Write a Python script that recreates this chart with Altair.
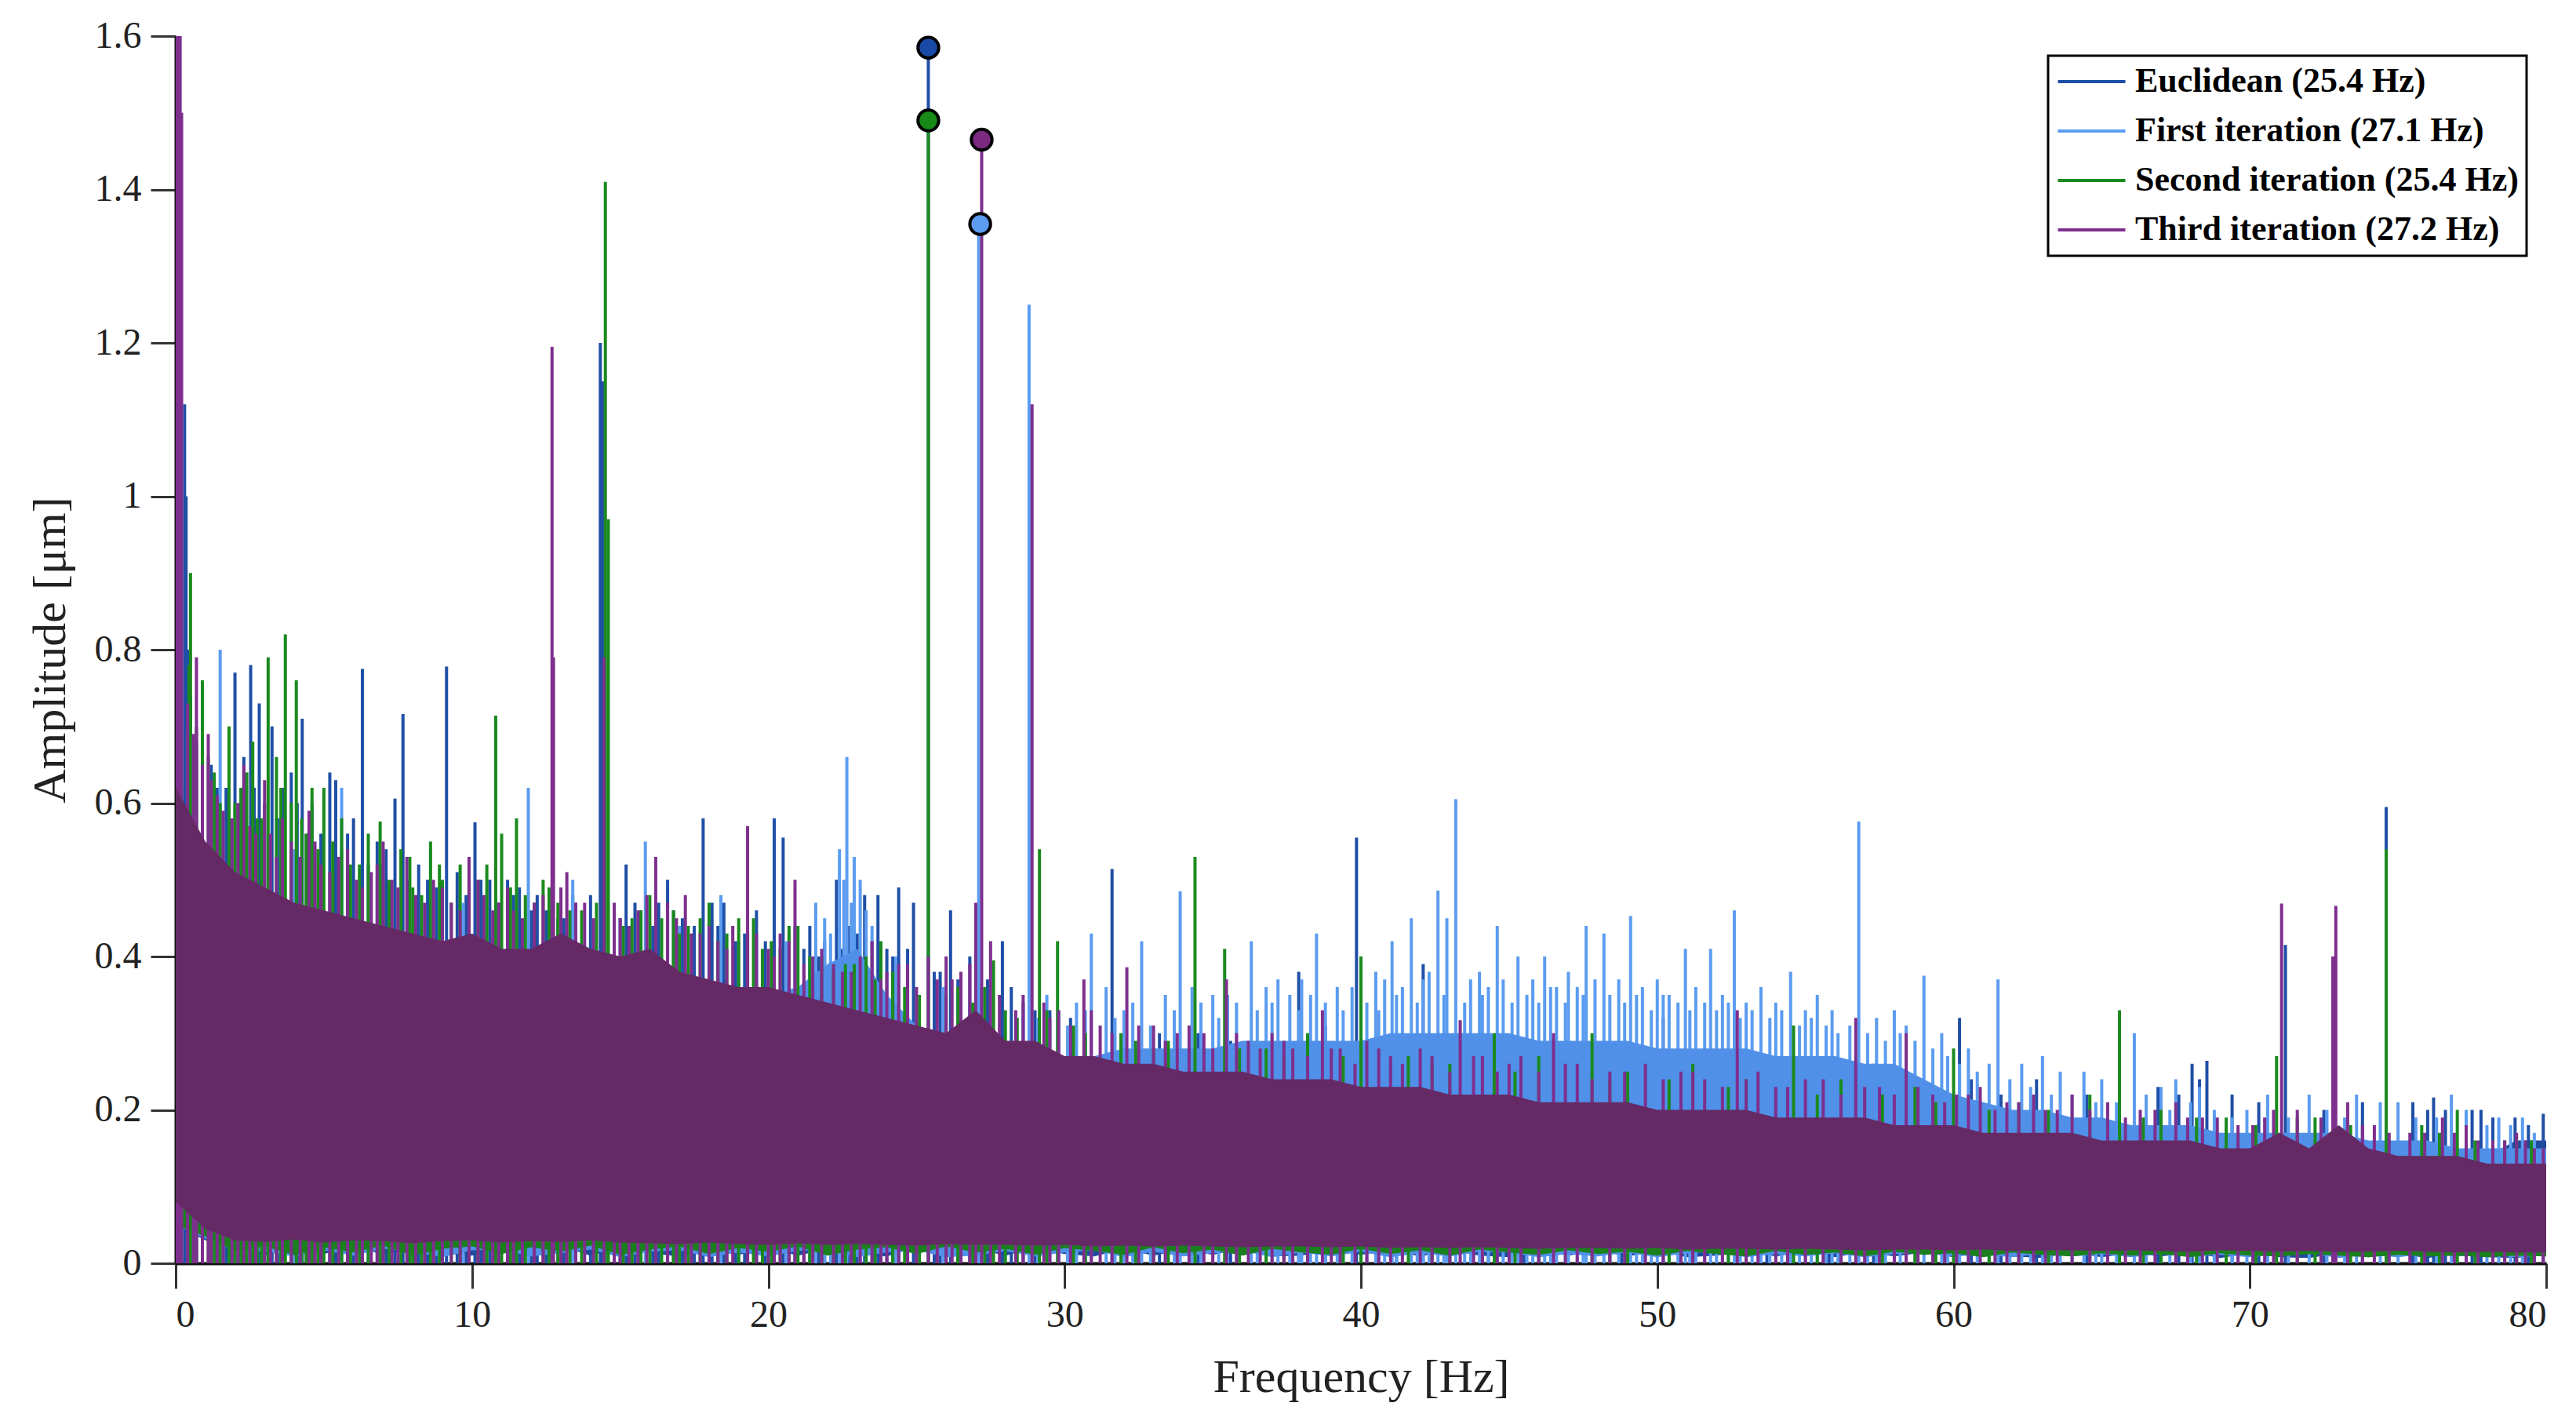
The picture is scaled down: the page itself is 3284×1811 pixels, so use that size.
import altair as alt
import pandas as pd

SERIES = ["Euclidean (25.4 Hz)", "First iteration (27.1 Hz)",
          "Second iteration (25.4 Hz)", "Third iteration (27.2 Hz)"]
LINE_COLORS = ["#1f4fa6", "#5b9cf0", "#1b8a1e", "#7e2f8e"]
FILL_COLORS = ["#1f4a9c", "#5090e8", "#1a801d", "#652a66"]
MARKER_COLORS = ["#1a4aa8", "#5b9cf0", "#178a17", "#7a2a80"]

FREQ = list(range(81))

# dense noise band: upper edge per 1 Hz
euclid_hi = [0.61,0.54,0.50,0.48,0.46,0.45,0.44,0.43,0.42,0.41,
             0.42,0.40,0.40,0.42,0.40,0.39,0.40,0.37,0.36,0.35,
             0.35,0.34,0.33,0.32,0.31,0.30,0.29,0.32,0.28,0.28,
             0.26,0.26,0.25,0.25,0.24,0.24,0.24,0.23,0.23,0.23,
             0.22,0.22,0.22,0.21,0.21,0.21,0.20,0.20,0.20,0.20,
             0.19,0.19,0.19,0.19,0.18,0.18,0.18,0.18,0.17,0.17,
             0.17,0.16,0.16,0.16,0.16,0.15,0.15,0.17,0.18,0.15,
             0.15,0.16,0.15,0.17,0.15,0.14,0.15,0.14,0.14,0.16,
             0.16]
first_hi = [0.61,0.54,0.50,0.48,0.46,0.45,0.44,0.43,0.42,0.41,
            0.42,0.40,0.40,0.42,0.40,0.39,0.40,0.37,0.36,0.35,
            0.35,0.36,0.39,0.41,0.35,0.31,0.29,0.32,0.28,0.28,
            0.27,0.27,0.28,0.28,0.28,0.28,0.29,0.29,0.29,0.29,
            0.29,0.30,0.30,0.30,0.30,0.30,0.29,0.29,0.29,0.29,
            0.28,0.28,0.28,0.28,0.27,0.27,0.27,0.26,0.26,0.24,
            0.22,0.21,0.20,0.20,0.19,0.19,0.18,0.18,0.18,0.17,
            0.17,0.17,0.17,0.17,0.16,0.16,0.16,0.15,0.15,0.15,
            0.15]
second_hi = [0.61,0.54,0.50,0.48,0.46,0.45,0.44,0.43,0.42,0.41,
             0.42,0.40,0.40,0.42,0.40,0.39,0.40,0.37,0.36,0.35,
             0.35,0.34,0.33,0.32,0.31,0.30,0.29,0.32,0.28,0.28,
             0.26,0.26,0.25,0.25,0.24,0.24,0.24,0.23,0.23,0.23,
             0.22,0.22,0.22,0.21,0.21,0.21,0.20,0.20,0.20,0.20,
             0.19,0.19,0.19,0.19,0.18,0.18,0.18,0.18,0.17,0.17,
             0.17,0.16,0.16,0.16,0.16,0.15,0.15,0.15,0.15,0.14,
             0.14,0.16,0.14,0.17,0.14,0.14,0.14,0.14,0.13,0.13,
             0.13]
third_hi = [0.62,0.55,0.51,0.49,0.47,0.46,0.45,0.44,0.43,0.42,
            0.43,0.41,0.41,0.43,0.41,0.40,0.41,0.38,0.37,0.36,
            0.36,0.35,0.34,0.33,0.32,0.31,0.30,0.33,0.29,0.29,
            0.27,0.27,0.26,0.26,0.25,0.25,0.25,0.24,0.24,0.24,
            0.23,0.23,0.23,0.22,0.22,0.22,0.21,0.21,0.21,0.21,
            0.20,0.20,0.20,0.20,0.19,0.19,0.19,0.19,0.18,0.18,
            0.18,0.17,0.17,0.17,0.17,0.16,0.16,0.16,0.16,0.15,
            0.15,0.17,0.15,0.18,0.15,0.14,0.14,0.14,0.13,0.13,
            0.13]

# dense noise band: lower edge per 1 Hz
euclid_lo = [0.05,0.030,0.022,0.010,0.020,0.012,0.023,0.011,0.019,0.013,
             0.010,0.021,0.012,0.022,0.010,0.020,0.013,0.009,0.021,0.011,
             0.020,0.010,0.019,0.012,0.009,0.021,0.011,0.019,0.010,0.020,
             0.012,0.009,0.019,0.010,0.018,0.011,0.019,0.009,0.010,0.018,
             0.011,0.017,0.009,0.017,0.010,0.008,0.017,0.010,0.016,0.009,
             0.016,0.008,0.010,0.016,0.009,0.015,0.008,0.015,0.009,0.014,
             0.008,0.015,0.009,0.007,0.014,0.008,0.013,0.009,0.014,0.007,
             0.013,0.008,0.007,0.013,0.008,0.012,0.007,0.013,0.008,0.007,
             0.012]
first_lo = [0.05,0.032,0.017,0.015,0.009,0.017,0.010,0.019,0.015,0.008,
            0.017,0.018,0.009,0.013,0.018,0.008,0.015,0.017,0.008,0.014,
            0.009,0.016,0.018,0.008,0.014,0.017,0.008,0.010,0.016,0.009,
            0.014,0.017,0.008,0.015,0.009,0.013,0.016,0.008,0.014,0.009,
            0.015,0.008,0.013,0.009,0.015,0.014,0.008,0.012,0.009,0.014,
            0.008,0.013,0.015,0.008,0.012,0.009,0.013,0.008,0.012,0.014,
            0.009,0.011,0.008,0.013,0.009,0.012,0.008,0.012,0.009,0.011,
            0.008,0.012,0.013,0.007,0.011,0.008,0.012,0.009,0.011,0.008,
            0.010]
second_lo = [0.05,0.035,0.016,0.022,0.011,0.021,0.014,0.023,0.010,0.019,
             0.022,0.012,0.021,0.015,0.023,0.011,0.018,0.022,0.012,0.020,
             0.015,0.022,0.010,0.018,0.021,0.012,0.022,0.014,0.019,0.011,
             0.020,0.016,0.011,0.021,0.013,0.018,0.010,0.019,0.014,0.011,
             0.019,0.012,0.017,0.010,0.018,0.014,0.011,0.017,0.012,0.015,
             0.010,0.016,0.012,0.009,0.016,0.011,0.014,0.009,0.015,0.011,
             0.013,0.008,0.014,0.011,0.009,0.013,0.010,0.012,0.008,0.013,
             0.010,0.009,0.012,0.010,0.008,0.011,0.009,0.010,0.008,0.010,
             0.009]
third_lo = [0.08,0.045,0.030,0.028,0.031,0.027,0.030,0.029,0.026,0.029,
            0.030,0.027,0.029,0.028,0.030,0.027,0.026,0.025,0.027,0.025,
            0.024,0.026,0.024,0.025,0.024,0.023,0.025,0.024,0.024,0.023,
            0.024,0.022,0.023,0.022,0.023,0.022,0.021,0.022,0.022,0.021,
            0.022,0.020,0.021,0.020,0.021,0.020,0.019,0.020,0.020,0.019,
            0.020,0.018,0.019,0.019,0.018,0.019,0.018,0.017,0.018,0.018,
            0.017,0.018,0.016,0.017,0.017,0.016,0.017,0.016,0.015,0.017,
            0.016,0.015,0.016,0.015,0.015,0.016,0.015,0.014,0.015,0.014,
            0.014]

# individual spectral lines: (frequency Hz, amplitude um)
euclid_spikes = [
    (0.3,1.12),(0.35,1.0),(0.4,0.8),(0.5,0.74),(0.7,0.68),(0.9,0.70),(1.2,0.65),(1.4,0.62),
    (1.7,0.62),(2.0,0.77),(2.15,0.60),(2.3,0.66),(2.53,0.78),(2.65,0.62),(2.82,0.73),(3.0,0.60),
    (3.25,0.70),(3.45,0.58),(3.6,0.62),(3.9,0.64),(4.1,0.60),(4.27,0.71),(4.45,0.56),(4.6,0.60),
    (4.9,0.56),(5.2,0.64),(5.4,0.63),(5.6,0.54),(5.8,0.56),(6.0,0.58),(6.3,0.775),(6.5,0.52),
    (6.8,0.55),(6.95,0.52),(7.1,0.54),(7.4,0.606),(7.67,0.716),(7.85,0.50),(8.2,0.52),(8.5,0.50),
    (8.8,0.49),(9.14,0.778),(9.5,0.51),(9.8,0.48),(10.1,0.575),(10.3,0.50),(10.6,0.50),(10.9,0.47),
    (11.2,0.50),(11.4,0.48),(11.6,0.49),(12.0,0.46),(12.2,0.48),(12.5,0.46),(12.9,0.45),(13.1,0.45),
    (13.4,0.48),(13.5,0.47),(14.0,0.48),(14.33,1.20),(14.4,1.15),(15.0,0.45),(15.2,0.52),(15.5,0.47),
    (15.7,0.46),(16.1,0.44),(16.3,0.47),(16.6,0.50),(16.8,0.46),(17.1,0.45),(17.5,0.44),(17.8,0.58),
    (18.1,0.47),(18.3,0.44),(18.5,0.47),(18.9,0.42),(19.2,0.43),(19.6,0.46),(19.9,0.42),(20.2,0.58),
    (20.5,0.555),(20.7,0.43),(20.9,0.44),(21.2,0.41),(21.4,0.44),(21.7,0.40),(21.9,0.42),(22.3,0.50),
    (22.5,0.41),(22.7,0.44),(23.0,0.43),(23.25,0.48),(23.5,0.42),(23.7,0.48),(24.0,0.41),(24.2,0.40),
    (24.4,0.49),(24.7,0.41),(24.9,0.47),(25.4,1.585),(25.6,0.38),(25.8,0.38),(26.15,0.46),(26.4,0.37),
    (26.8,0.40),(27.1,0.36),(27.4,0.37),(27.9,0.42),(28.2,0.36),(28.6,0.34),(29.0,0.33),(29.5,0.33),
    (30.2,0.32),(31.6,0.514),(33.2,0.30),(34.5,0.30),(35.6,0.29),(37.9,0.38),(38.8,0.31),(39.85,0.555),
    (41.2,0.30),(42.1,0.39),(44.3,0.29),(45.5,0.28),(48.8,0.28),(50.2,0.32),(53.7,0.27),(55.8,0.27),
    (57.3,0.26),(60.2,0.32),(60.6,0.24),(61.6,0.22),(62.8,0.24),(64.5,0.22),(66.9,0.23),(67.6,0.22),
    (68.05,0.26),(68.3,0.24),(68.55,0.264),(69.4,0.22),(70.3,0.21),(71.2,0.415),(72.5,0.20),(73.8,0.21),
    (74.6,0.595),(75.5,0.21),(76.0,0.20),(76.2,0.216),(76.6,0.20),(77.5,0.20),(77.8,0.20),(78.2,0.19),
    (78.95,0.19),(79.4,0.18),(79.9,0.195)]

first_spikes = [
    (0.4,0.70),(1.5,0.80),(2.4,0.56),(3.4,0.58),(4.0,0.54),(5.6,0.62),(6.8,0.50),(9.7,0.47),
    (11.9,0.62),(13.4,0.50),(14.8,0.45),(15.85,0.55),(17.0,0.44),(18.4,0.48),(19.0,0.42),(20.6,0.42),
    (21.4,0.40),(21.6,0.47),(21.9,0.45),(22.1,0.43),(22.4,0.54),(22.55,0.50),(22.65,0.66),(22.8,0.47),
    (22.9,0.53),(23.1,0.50),(23.3,0.46),(23.5,0.44),(23.8,0.40),(24.3,0.40),(25.9,0.36),(27.1,1.355),
    (28.6,0.33),(28.8,1.25),(29.1,0.32),(29.4,0.35),(29.8,0.33),(30.1,0.31),(30.4,0.34),(30.7,0.33),
    (30.9,0.43),(31.4,0.36),(31.7,0.32),(32.0,0.33),(32.3,0.34),(32.6,0.42),(32.9,0.31),(33.4,0.35),
    (33.7,0.33),(33.9,0.485),(34.3,0.36),(34.6,0.34),(35.0,0.35),(35.2,0.32),(35.5,0.35),(35.8,0.34),
    (36.3,0.42),(36.5,0.33),(36.8,0.36),(37.0,0.34),(37.2,0.37),(37.6,0.35),(37.9,0.33),(38.0,0.37),
    (38.3,0.35),(38.5,0.43),(38.8,0.34),(39.2,0.36),(39.4,0.33),(39.7,0.36),(40.0,0.35),(40.2,0.34),
    (40.5,0.38),(40.6,0.33),(40.8,0.37),(41.05,0.42),(41.2,0.35),(41.4,0.36),(41.7,0.45),(41.9,0.34),
    (42.1,0.37),(42.3,0.38),(42.6,0.486),(42.8,0.35),(42.9,0.45),(43.2,0.605),(43.5,0.34),(43.7,0.37),
    (44.0,0.38),(44.1,0.35),(44.3,0.36),(44.6,0.44),(44.8,0.37),(45.1,0.34),(45.3,0.40),(45.6,0.35),
    (45.8,0.37),(46.0,0.34),(46.2,0.40),(46.4,0.36),(46.6,0.36),(46.9,0.34),(47.0,0.38),(47.3,0.36),
    (47.5,0.35),(47.6,0.44),(47.9,0.37),(48.2,0.43),(48.4,0.35),(48.7,0.37),(48.9,0.34),(49.1,0.453),
    (49.3,0.35),(49.5,0.36),(49.8,0.33),(50.0,0.37),(50.2,0.35),(50.4,0.35),(50.7,0.34),(50.95,0.41),
    (51.1,0.33),(51.3,0.36),(51.6,0.34),(51.8,0.41),(52.0,0.33),(52.2,0.35),(52.4,0.34),(52.6,0.46),
    (52.8,0.32),(53.0,0.34),(53.2,0.33),(53.5,0.36),(53.8,0.32),(54.0,0.34),(54.2,0.33),(54.5,0.38),
    (54.8,0.31),(55.0,0.33),(55.2,0.32),(55.4,0.35),(55.7,0.31),(55.9,0.33),(56.1,0.30),(56.5,0.31),
    (56.8,0.576),(57.1,0.30),(57.4,0.32),(57.7,0.29),(58.0,0.33),(58.2,0.30),(58.4,0.31),(58.7,0.29),
    (59.0,0.375),(59.3,0.28),(59.6,0.30),(59.8,0.27),(60.2,0.26),(60.5,0.28),(60.8,0.25),(61.2,0.26),
    (61.5,0.37),(61.9,0.24),(62.3,0.26),(62.6,0.23),(63.0,0.27),(63.3,0.22),(63.6,0.25),(64.0,0.22),
    (64.4,0.25),(64.8,0.21),(65.0,0.24),(65.5,0.21),(66.1,0.30),(66.5,0.22),(67.0,0.23),(67.3,0.20),
    (67.5,0.24),(68.0,0.21),(68.3,0.23),(68.8,0.20),(69.4,0.19),(69.9,0.20),(70.6,0.22),(71.3,0.19),
    (72.0,0.22),(72.6,0.20),(73.2,0.19),(73.6,0.22),(74.4,0.21),(75.0,0.21),(75.6,0.19),(76.3,0.19),
    (76.8,0.22),(77.3,0.20),(78.0,0.18),(78.4,0.19),(78.8,0.18),(79.2,0.19),(79.6,0.17)]

second_spikes = [
    (0.45,0.78),(0.5,0.90),(0.7,0.70),(0.9,0.76),(1.1,0.66),(1.3,0.64),(1.5,0.60),(1.8,0.70),
    (2.0,0.60),(2.2,0.62),(2.4,0.64),(2.6,0.68),(2.75,0.58),(2.9,0.58),(3.12,0.79),(3.4,0.66),
    (3.55,0.62),(3.7,0.82),(3.9,0.60),(4.07,0.76),(4.25,0.58),(4.4,0.56),(4.6,0.62),(4.8,0.54),
    (5.0,0.62),(5.3,0.55),(5.6,0.58),(5.9,0.52),(6.2,0.52),(6.5,0.56),(6.9,0.576),(7.0,0.50),
    (7.2,0.50),(7.6,0.54),(7.9,0.53),(8.0,0.49),(8.3,0.48),(8.6,0.55),(8.9,0.52),(9.0,0.50),
    (9.3,0.47),(9.6,0.52),(9.9,0.50),(10.2,0.50),(10.5,0.52),(10.8,0.714),(11.0,0.56),(11.3,0.49),
    (11.5,0.58),(11.8,0.48),(12.1,0.47),(12.4,0.50),(12.6,0.49),(12.9,0.47),(13.3,0.46),(13.7,0.46),
    (14.2,0.47),(14.5,1.41),(14.6,0.97),(15.1,0.44),(15.4,0.45),(15.7,0.46),(16.0,0.48),(16.4,0.45),
    (16.8,0.46),(17.0,0.43),(17.3,0.44),(17.7,0.45),(18.0,0.47),(18.3,0.42),(18.6,0.43),(19.0,0.45),
    (19.3,0.43),(19.5,0.45),(19.8,0.41),(20.1,0.42),(20.4,0.41),(20.7,0.44),(21.0,0.44),(21.4,0.40),
    (21.8,0.40),(22.2,0.38),(22.6,0.39),(22.9,0.39),(23.3,0.40),(23.6,0.37),(23.8,0.42),(24.2,0.38),
    (24.6,0.36),(25.1,0.35),(25.4,1.49),(26.0,0.35),(26.4,0.36),(26.9,0.34),(27.3,0.36),(27.6,0.395),
    (28.0,0.33),(28.4,0.32),(29.15,0.54),(29.4,0.33),(29.76,0.42),(30.3,0.31),(30.7,0.30),(31.9,0.30),
    (32.4,0.29),(33.0,0.28),(33.5,0.29),(34.4,0.53),(35.4,0.41),(35.9,0.28),(36.8,0.28),(37.4,0.27),
    (38.2,0.30),(39.4,0.27),(40.0,0.40),(41.6,0.27),(42.4,0.26),(43.0,0.26),(44.5,0.30),(45.2,0.25),
    (46.0,0.27),(47.8,0.30),(48.4,0.24),(49.0,0.25),(50.4,0.24),(51.2,0.26),(52.4,0.23),(53.0,0.24),
    (54.6,0.31),(55.4,0.22),(56.2,0.24),(57.6,0.22),(58.7,0.23),(59.4,0.21),(60.0,0.28),(61.2,0.20),
    (62.2,0.21),(63.2,0.20),(64.6,0.22),(65.6,0.33),(66.4,0.19),(67.0,0.20),(68.2,0.19),(69.2,0.19),
    (70.2,0.18),(70.9,0.27),(71.6,0.19),(72.2,0.19),(73.4,0.18),(74.6,0.54),(75.8,0.18),(76.4,0.17),
    (77.0,0.20),(77.6,0.16),(78.6,0.16),(79.0,0.16),(79.5,0.16)]

third_spikes = [
    (0.0,1.7),(0.05,1.7),(0.1,1.7),(0.15,1.7),(0.2,1.5),(0.4,0.73),(0.6,0.69),(0.7,0.79),
    (0.9,0.65),(1.1,0.69),(1.2,0.63),(1.4,0.61),(1.6,0.59),(1.9,0.58),(2.1,0.60),(2.3,0.65),
    (2.5,0.57),(2.7,0.56),(3.0,0.63),(3.2,0.56),(3.4,0.53),(3.6,0.58),(3.9,0.55),(4.2,0.53),
    (4.5,0.59),(4.7,0.55),(4.9,0.52),(5.2,0.51),(5.5,0.53),(5.8,0.54),(6.1,0.50),(6.3,0.49),
    (6.6,0.51),(6.8,0.52),(7.0,0.55),(7.3,0.50),(7.5,0.49),(7.8,0.53),(8.1,0.48),(8.4,0.47),
    (8.7,0.50),(9.0,0.49),(9.3,0.47),(9.6,0.46),(9.9,0.53),(10.2,0.50),(10.4,0.48),(10.7,0.46),
    (10.9,0.47),(11.2,0.49),(11.4,0.46),(11.7,0.45),(12.1,0.47),(12.4,0.48),(12.7,1.195),(12.75,0.79),
    (13.0,0.49),(13.2,0.51),(13.5,0.47),(13.8,0.47),(14.1,0.45),(14.45,0.79),(14.8,0.47),(15.0,0.45),
    (15.3,0.44),(15.6,0.46),(15.9,0.48),(16.2,0.53),(16.6,0.47),(16.9,0.45),(17.2,0.48),(17.4,0.43),
    (17.7,0.43),(18.0,0.44),(18.3,0.42),(18.6,0.41),(18.8,0.44),(19.3,0.57),(19.6,0.43),(20.0,0.41),
    (20.2,0.40),(20.4,0.43),(20.7,0.42),(20.9,0.50),(21.2,0.39),(21.5,0.40),(21.8,0.41),(22.2,0.39),
    (22.5,0.38),(22.8,0.38),(23.1,0.40),(23.5,0.42),(23.8,0.37),(24.0,0.38),(24.4,0.39),(24.7,0.39),
    (25.0,0.36),(25.4,0.40),(25.7,0.37),(26.0,0.40),(26.2,0.37),(26.5,0.38),(26.8,0.39),(27.0,0.47),
    (27.2,1.465),(27.5,0.42),(27.8,0.35),(28.35,0.33),(28.6,0.35),(28.9,1.12),(29.3,0.34),(29.5,0.32),
    (29.8,0.33),(30.2,0.31),(30.65,0.37),(30.9,0.33),(31.2,0.31),(31.6,0.30),(32.1,0.386),(32.5,0.31),
    (33.0,0.31),(33.4,0.29),(33.8,0.30),(34.2,0.31),(34.7,0.30),(35.0,0.28),(35.46,0.37),(35.8,0.30),
    (36.2,0.29),(36.6,0.28),(37.0,0.30),(37.4,0.29),(37.7,0.28),(38.2,0.27),(38.7,0.33),(39.0,0.28),
    (39.3,0.28),(39.8,0.26),(40.2,0.29),(40.6,0.28),(41.0,0.27),(41.4,0.26),(42.0,0.28),(42.4,0.27),
    (43.0,0.25),(43.35,0.317),(43.8,0.27),(44.1,0.27),(44.6,0.25),(45.0,0.26),(45.4,0.27),(46.0,0.25),
    (46.5,0.30),(46.9,0.26),(47.3,0.26),(47.8,0.24),(48.4,0.25),(48.9,0.25),(49.6,0.26),(50.2,0.24),
    (50.8,0.25),(51.2,0.25),(51.6,0.24),(52.2,0.23),(52.7,0.33),(53.0,0.24),(53.4,0.25),(54.0,0.23),
    (54.4,0.23),(55.0,0.24),(55.6,0.24),(56.2,0.22),(56.7,0.32),(57.0,0.23),(57.5,0.23),(58.0,0.22),
    (58.4,0.30),(58.8,0.23),(59.3,0.22),(59.7,0.21),(60.1,0.22),(60.5,0.22),(60.9,0.23),(61.4,0.20),
    (61.8,0.21),(62.2,0.21),(62.7,0.22),(63.1,0.20),(63.5,0.20),(64.0,0.22),(64.6,0.20),(65.2,0.21),
    (65.8,0.19),(66.3,0.20),(66.8,0.20),(67.5,0.21),(67.9,0.19),(68.4,0.19),(68.9,0.19),(69.6,0.18),
    (70.1,0.18),(70.5,0.19),(70.8,0.20),(71.07,0.469),(71.6,0.20),(72.4,0.19),(72.8,0.40),(72.9,0.466),
    (73.3,0.21),(73.8,0.18),(74.2,0.18),(74.7,0.17),(75.4,0.17),(75.9,0.17),(76.5,0.19),(76.9,0.17),
    (77.3,0.18),(77.7,0.16),(78.2,0.16),(78.6,0.16),(79.0,0.17),(79.3,0.16),(79.6,0.15),(79.9,0.15)]

# dominant peaks marked with circles
peak_series = SERIES
peak_f = [25.4, 27.15, 25.4, 27.2]
peak_a = [1.585, 1.355, 1.49, 1.465]

HIS = [euclid_hi, first_hi, second_hi, third_hi]
LOS = [euclid_lo, first_lo, second_lo, third_lo]
SPK = [euclid_spikes, first_spikes, second_spikes, third_spikes]

band_rows = []
for name, lo, hi in zip(SERIES, LOS, HIS):
    for f, l, h in zip(FREQ, lo, hi):
        band_rows.append({"series": name, "f": f, "lo": l, "amp": h})
band = pd.DataFrame(band_rows)

spike_rows = []
for name, lst in zip(SERIES, SPK):
    for f, a in lst:
        spike_rows.append({"series": name, "f": f, "amp": a, "base": 0.0})
spikes = pd.DataFrame(spike_rows)

peaks = pd.DataFrame({"series": peak_series, "f": peak_f, "amp": peak_a})

FONT = "Liberation Serif"

xaxis = alt.Axis(values=list(range(0, 81, 10)), title="Frequency [Hz]", grid=False,
                 tickSize=32, tickWidth=3, tickColor="#333333", domainColor="#111111",
                 domainWidth=4, labelFont=FONT, labelFontSize=48, labelColor="#222222",
                 labelPadding=10, titleFont=FONT, titleFontSize=60, titleFontWeight="normal",
                 titleColor="#222222", titleY=145, titleBaseline="middle")
yaxis = alt.Axis(values=[0, 0.2, 0.4, 0.6, 0.8, 1.0, 1.2, 1.4, 1.6], format="~g",
                 title="Amplitude [μm]", grid=False, tickSize=32, tickWidth=3,
                 tickColor="#333333", domainColor="#111111", domainWidth=4,
                 labelFont=FONT, labelFontSize=48, labelColor="#222222", labelPadding=12,
                 titleFont=FONT, titleFontSize=60, titleFontWeight="normal",
                 titleColor="#222222", titleX=-160, titleY=782, titleBaseline="middle")

X = alt.X("f:Q", scale=alt.Scale(domain=[0, 80], nice=False, zero=False), axis=xaxis)
Y = alt.Y("amp:Q", scale=alt.Scale(domain=[0, 1.6], nice=False), axis=yaxis)

color = alt.Color("series:N", scale=alt.Scale(domain=SERIES, range=LINE_COLORS),
                  legend=alt.Legend(title=None, orient="top-right", offset=25,
                                    strokeColor="black", fillColor="white", padding=10,
                                    symbolType="stroke", symbolStrokeWidth=4,
                                    symbolSize=7400, clipHeight=46, rowPadding=17,
                                    labelFont=FONT, labelFontSize=44, labelFontWeight="bold",
                                    labelColor="black", labelLimit=900, labelOffset=10))

layers = []
for i, name in enumerate(SERIES):
    rule = alt.Chart(spikes).transform_filter(alt.datum.series == name).mark_rule(
        strokeWidth=4, clip=True
    ).encode(x=X, y=Y, y2="base:Q", color=color)
    area = alt.Chart(band).transform_filter(alt.datum.series == name).mark_area(
        color=FILL_COLORS[i], opacity=1, clip=True, interpolate="linear"
    ).encode(x=X, y=Y, y2="lo:Q")
    layers += [rule, area]

pts = alt.Chart(peaks).mark_point(shape="circle", filled=True, size=700, stroke="black",
                                  strokeWidth=4, opacity=1).encode(
    x=X, y=Y,
    fill=alt.Fill("series:N", scale=alt.Scale(domain=SERIES, range=MARKER_COLORS), legend=None))
layers.append(pts)

chart = alt.layer(*layers).properties(
    width=3022, height=1564,
    padding={"left": 216, "top": 38, "right": 30, "bottom": 193},
    autosize=alt.AutoSizeParams(type="none"),
    background="white",
).configure_view(strokeWidth=0).configure_legend(strokeWidth=3, cornerRadius=0)

chart.save("out.html", embed_options={"renderer": "svg", "actions": False})
